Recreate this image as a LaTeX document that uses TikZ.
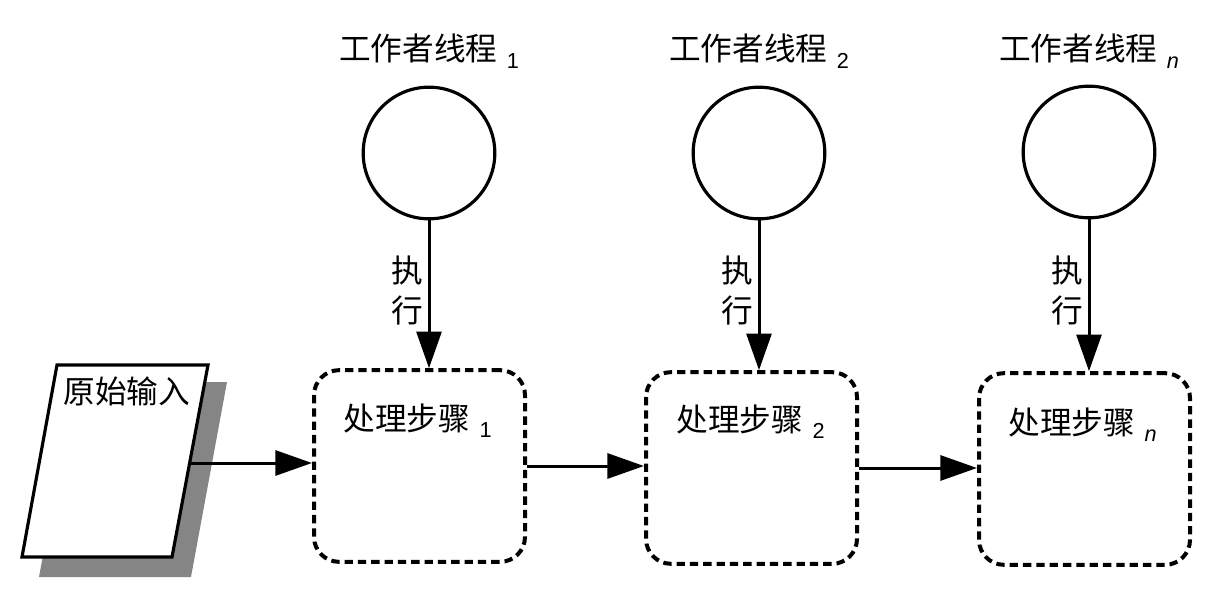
\documentclass[tikz,border=0pt]{standalone}
\usepackage{fontspec}
\setmainfont{Noto Sans CJK SC}
\newfontfamily\subfont{Liberation Sans}
\usetikzlibrary{arrows.meta}
\newcommand{\mysub}[1]{\hspace{0.3em}\raisebox{-4.5pt}{\fontsize{13}{14}\subfont #1}}
\begin{document}
\begin{tikzpicture}[x=0.6pt,y=-0.6pt,
  txt/.style={font=\fontsize{19}{24}\selectfont,inner sep=0pt},
  worker/.style={circle,draw,line width=1.9pt,minimum size=79pt,inner sep=0pt},
  stepbox/.style={draw,line width=2.4pt,dash pattern=on 5pt off 3pt,rounded corners=15pt,minimum width=126.6pt,minimum height=115pt,inner sep=0pt},
  flow/.style={line width=1.8pt,-{Triangle[length=22pt,width=15pt]}}]
\useasboundingbox (0,0) rectangle (1227,608);

% input document with shadow
\fill[black!48] (75,382) -- (227,382) -- (191,577) -- (39,577) -- cycle;
\draw[line width=1.9pt,fill=white] (57,365) -- (208,365) -- (172,557) -- (22,557) -- cycle;
\node[txt,anchor=base west] (inlbl) at (63,403) {原始输入};
\coordinate (src) at (189,463);

% workers
\node[worker] (w1) at (429,153) {};
\node[worker] (w2) at (759,153) {};
\node[worker] (wn) at (1089,152) {};
\node[txt,anchor=base] (t1) at (429,61) {工作者线程\mysub{1}};
\node[txt,anchor=base] (t2) at (759,61) {工作者线程\mysub{2}};
\node[txt,anchor=base] (tn) at (1089,61) {工作者线程\mysub{\itshape n}};

% steps
\node[stepbox] (s1) at (419.5,466) {};
\node[stepbox] (s2) at (751.5,468) {};
\node[stepbox] (sn) at (1084.5,469) {};
\node[txt,anchor=base west] (l1) at (343,430) {处理步骤\mysub{1}};
\node[txt,anchor=base west] (l2) at (676,431) {处理步骤\mysub{2}};
\node[txt,anchor=base west] (ln) at (1008,434) {处理步骤\mysub{\itshape n}};

% execute arrows
\draw[flow] (w1.south) -- (w1.south |- s1.north);
\draw[flow] (w2.south) -- (w2.south |- s2.north);
\draw[flow] (wn.south) -- (wn.south |- sn.north);
\node[txt,anchor=east,align=center] (e1) at (423,290) {执\\行};
\node[txt,anchor=east,align=center] (e2) at (753,290) {执\\行};
\node[txt,anchor=east,align=center] (en) at (1083,290) {执\\行};

% flow arrows
\draw[flow] (src) -- (src -| s1.west);
\draw[flow] (s1.east) -- (s1.east -| s2.west);
\draw[flow] (s2.east) -- (s2.east -| sn.west);
\end{tikzpicture}
\end{document}
